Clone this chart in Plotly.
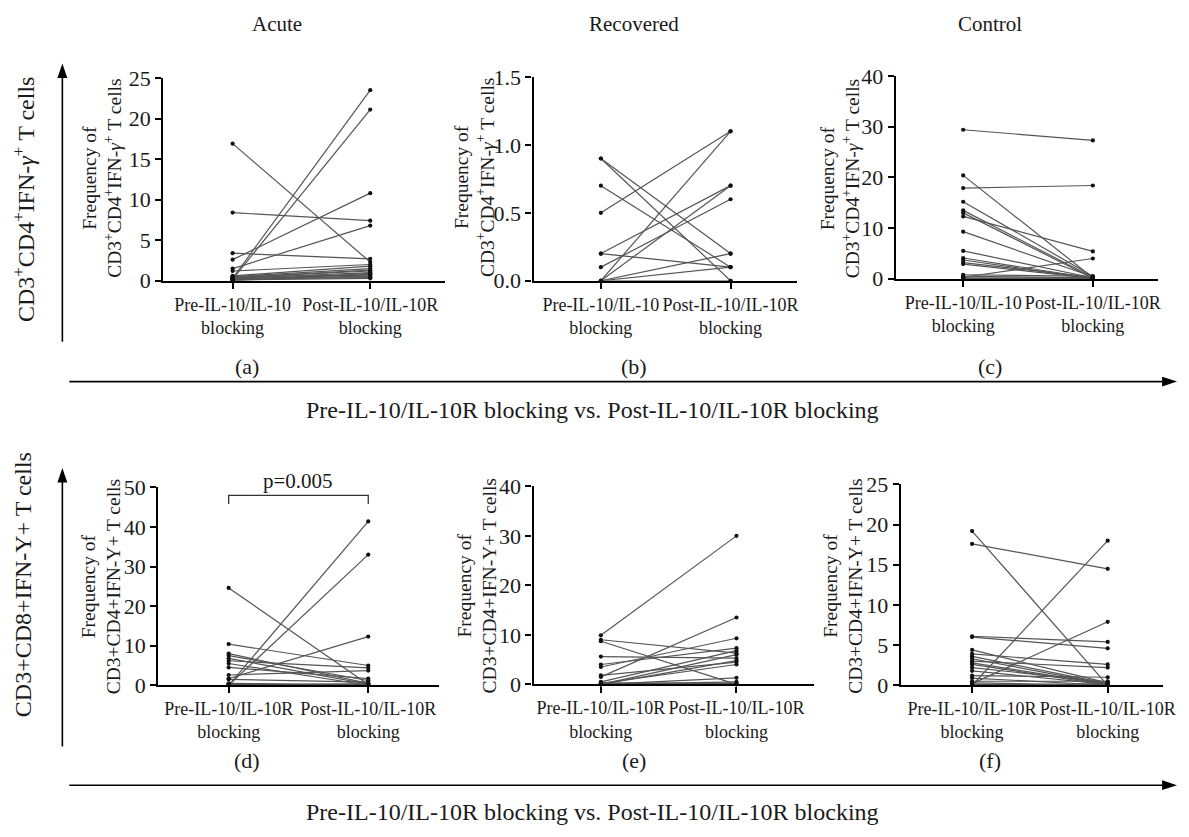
import plotly.graph_objects as go

W, H = 1189, 837

# ---------------- data ----------------
categories_top = ["Pre-IL-10/IL-10<br>blocking", "Post-IL-10/IL-10R<br>blocking"]
categories_bot = ["Pre-IL-10/IL-10R<br>blocking", "Post-IL-10/IL-10R<br>blocking"]

acute_cd4_pre = [16.9, 8.4, 0.3, 0.2, 2.6, 1.5, 3.4, 1.2, 0.5, 0.4, 0.3, 0.2, 0.1, 0.6, 0.3, 0.2, 0.4, 0.1, 0.0, 0.5]
acute_cd4_post = [2.3, 7.4, 23.5, 21.1, 10.8, 6.8, 2.7, 2.0, 1.5, 1.2, 1.0, 0.8, 0.6, 1.8, 0.5, 0.4, 1.3, 0.3, 0.9, 0.7]

recov_cd4_pre = [0.9, 0.9, 0.7, 0.5, 0.2, 0.2, 0.1, 0.0, 0.0, 0.0, 0.0, 0.0]
recov_cd4_post = [0.2, 0.0, 0.1, 1.1, 0.7, 0.1, 0.6, 1.1, 0.7, 0.2, 0.1, 0.0]

ctrl_cd4_pre = [29.4, 17.9, 20.4, 15.2, 13.5, 13.0, 12.3, 9.3, 5.5, 4.1, 3.7, 3.2, 2.9, 0.8, 0.5, 0.3, 0.2, 0.1, 0.0, 0.0]
ctrl_cd4_post = [27.3, 18.4, 0.2, 0.5, 0.3, 0.1, 5.4, 0.4, 0.2, 0.1, 0.0, 0.3, 0.1, 0.5, 0.2, 4.0, 0.1, 0.0, 0.2, 0.0]

acute_cd8_pre = [24.6, 10.4, 8.0, 7.5, 6.8, 6.2, 5.5, 4.5, 2.6, 1.7, 1.5, 0.0, 0.0, 0.5, 0.3, 0.0, 0.2, 0.0]
acute_cd8_post = [0.2, 5.0, 0.5, 1.2, 0.3, 4.4, 0.0, 1.7, 3.7, 12.3, 0.8, 41.4, 33.0, 0.2, 0.0, 0.4, 0.1, 0.0]

recov_cd8_pre = [9.9, 8.7, 9.0, 5.6, 4.0, 3.5, 1.8, 1.5, 0.5, 0.2, 0.0, 0.0, 0.0, 0.3, 0.0, 0.1]
recov_cd8_post = [30.0, 0.0, 6.3, 5.3, 7.3, 9.3, 4.5, 13.5, 6.8, 4.0, 1.3, 0.5, 6.0, 0.2, 4.8, 0.0]

ctrl_cd8_pre = [19.2, 17.6, 0.0, 6.1, 6.0, 0.2, 4.4, 3.9, 3.6, 3.3, 3.0, 2.6, 2.2, 1.8, 1.2, 0.9, 0.5, 0.3, 0.0, 0.1, 0.0, 2.8]
ctrl_cd8_post = [0.0, 14.5, 18.0, 5.4, 4.6, 7.9, 0.3, 2.6, 0.2, 0.1, 2.2, 0.0, 0.4, 0.1, 1.0, 0.0, 0.5, 0.0, 0.2, 0.0, 0.0, 0.1]

y_max = [25, 1.5, 40, 50, 40, 25]
y_dtick = [5, 0.5, 10, 10, 10, 5]
group_titles = ["Acute", "Recovered", "Control"]
panel_letters = ["(a)", "(b)", "(c)", "(d)", "(e)", "(f)"]
ytitle_top = "Frequency of<br>CD3<sup>+</sup>CD4<sup>+</sup>IFN-<i>γ</i><sup>+</sup> T cells"
ytitle_bot = "Frequency of<br>CD3+CD4+IFN-Y+ T cells"
left_top = "CD3<sup>+</sup>CD4<sup>+</sup>IFN-<i>γ</i><sup>+</sup> T cells"
left_bot = "CD3+CD8+IFN-Y+ T cells"
xlabel = "Pre-IL-10/IL-10R blocking vs. Post-IL-10/IL-10R blocking"
pval_text = "p=0.005"

series = [
    (acute_cd4_pre, acute_cd4_post), (recov_cd4_pre, recov_cd4_post), (ctrl_cd4_pre, ctrl_cd4_post),
    (acute_cd8_pre, acute_cd8_post), (recov_cd8_pre, recov_cd8_post), (ctrl_cd8_pre, ctrl_cd8_post),
]

# ---------------- layout geometry (pixels) ----------------
geom = [
    dict(x0=165, pre=235, post=374, xend=450, ytop=68, ybot=277),
    dict(x0=539, pre=607, post=738, xend=805, ytop=67, ybot=277),
    dict(x0=905, pre=973, post=1104, xend=1170, ytop=66, ybot=275),
    dict(x0=160, pre=231, post=372, xend=443, ytop=490, ybot=694),
    dict(x0=539, pre=607, post=744, xend=822, ytop=489, ybot=693),
    dict(x0=910, pre=982, post=1119, xend=1175, ytop=487, ybot=694),
]
ytitle_pos = [(103, 171), (479, 171), (848, 172), (102, 592), (482, 592), (852, 592)]

FONT = "Liberation Serif"
TXT = "#1a1a1a"
def px(x): return x / W
def py(y): return 1 - y / H

fig = go.Figure()
layout = dict(
    width=W, height=H, margin=dict(l=0, r=0, t=0, b=0),
    paper_bgcolor="white", plot_bgcolor="white", showlegend=False,
    font=dict(family=FONT, size=18, color=TXT),
)
annotations = []
shapes = []

for i, ((pre, post), g) in enumerate(zip(series, geom)):
    n = i + 1
    xa = "xaxis" if n == 1 else f"xaxis{n}"
    ya = "yaxis" if n == 1 else f"yaxis{n}"
    xr = "x" if n == 1 else f"x{n}"
    yr = "y" if n == 1 else f"y{n}"
    xs, ys = [], []
    for a, b in zip(pre, post):
        xs += [0, 1, None]
        ys += [a, b, None]
    fig.add_trace(go.Scatter(
        x=xs, y=ys, mode="lines+markers", xaxis=xr, yaxis=yr,
        line=dict(color="#555555", width=1.2),
        marker=dict(color="#111111", size=4.2),
        cliponaxis=False, hoverinfo="skip",
    ))
    unit = g["post"] - g["pre"]
    lo = (g["x0"] - g["pre"]) / unit
    hi = (g["xend"] - g["pre"]) / unit
    cats = categories_top if i < 3 else categories_bot
    layout[xa] = dict(
        domain=[px(g["x0"]), px(g["xend"])], range=[lo, hi], anchor=yr,
        tickvals=[0, 1], ticktext=cats, ticks="outside", ticklen=6, tickwidth=2,
        tickcolor="black", showline=True, linewidth=2.4, linecolor="black",
        showgrid=False, zeroline=False, tickfont=dict(family=FONT, size=18, color=TXT),
        fixedrange=True,
    )
    layout[ya] = dict(
        domain=[py(g["ybot"]), py(g["ytop"])], range=[0, y_max[i]], anchor=xr,
        dtick=y_dtick[i], tick0=0, ticks="outside", ticklen=6, tickwidth=2,
        tickcolor="black", showline=True, linewidth=2.4, linecolor="black",
        showgrid=False, zeroline=False, tickfont=dict(family=FONT, size=22, color=TXT),
        tickformat=".1f" if i == 1 else "d", fixedrange=True,
    )
    cx, cy = ytitle_pos[i]
    annotations.append(dict(
        text=ytitle_top if i < 3 else ytitle_bot, x=px(cx), y=py(cy), xref="paper", yref="paper",
        textangle=-90, showarrow=False, xanchor="center", yanchor="middle",
        font=dict(family=FONT, size=19.5, color=TXT),
    ))

# group titles & panel letters
for t, x in zip(group_titles, [280, 640, 1000]):
    annotations.append(dict(text=t, x=px(x), y=py(12), xref="paper", yref="paper", showarrow=False,
                            xanchor="center", yanchor="middle", font=dict(family=FONT, size=21, color=TXT)))
for k, (lab, x) in enumerate(zip(panel_letters, [250, 640, 1000, 250, 640, 1000])):
    yy = 365 if k < 3 else 772
    annotations.append(dict(text=lab, x=px(x), y=py(yy), xref="paper", yref="paper", showarrow=False,
                            xanchor="center", yanchor="middle", font=dict(family=FONT, size=22, color=TXT)))

# horizontal arrows and labels
for yline, ytext in [(381, 410), (797, 825)]:
    shapes.append(dict(type="line", xref="paper", yref="paper", x0=px(70), x1=px(1176),
                       y0=py(yline), y1=py(yline), line=dict(color="black", width=1.6)))
    shapes.append(dict(type="path", xref="paper", yref="paper",
                       path=f"M {px(1189)},{py(yline)} L {px(1174)},{py(yline-5)} L {px(1174)},{py(yline+5)} Z",
                       fillcolor="black", line=dict(color="black", width=0)))
    annotations.append(dict(text=xlabel, x=px(599), y=py(ytext), xref="paper", yref="paper", showarrow=False,
                            xanchor="center", yanchor="middle", font=dict(family=FONT, size=24, color=TXT)))

# vertical arrows and labels
for ybottom, ytip, txt, cy in [(340, 53, left_top, 193), (757, 470, left_bot, 590)]:
    shapes.append(dict(type="line", xref="paper", yref="paper", x0=px(63), x1=px(63),
                       y0=py(ybottom), y1=py(ytip + 12), line=dict(color="black", width=1.6)))
    shapes.append(dict(type="path", xref="paper", yref="paper",
                       path=f"M {px(63)},{py(ytip)} L {px(58)},{py(ytip+15)} L {px(68)},{py(ytip+15)} Z",
                       fillcolor="black", line=dict(color="black", width=0)))
    annotations.append(dict(text=txt, x=px(24), y=py(cy), xref="paper", yref="paper", textangle=-90,
                            showarrow=False, xanchor="center", yanchor="middle", font=dict(family=FONT, size=24, color=TXT)))

# significance bracket on panel (d)
shapes.append(dict(type="path", xref="x4", yref="y4", path="M 0,45.8 L 0,48 L 1,48 L 1,45.8",
                   line=dict(color="#333333", width=1.3)))
annotations.append(dict(text=pval_text, x=0.5, y=48, xref="x4", yref="y4", showarrow=False,
                        xanchor="center", yanchor="bottom", font=dict(family=FONT, size=21, color=TXT)))

layout["annotations"] = annotations
layout["shapes"] = shapes
fig.update_layout(**layout)
fig.write_html("out.html", config={"displayModeBar": False},
               post_script="document.body.style.margin='0';document.body.style.overflow='hidden';")
